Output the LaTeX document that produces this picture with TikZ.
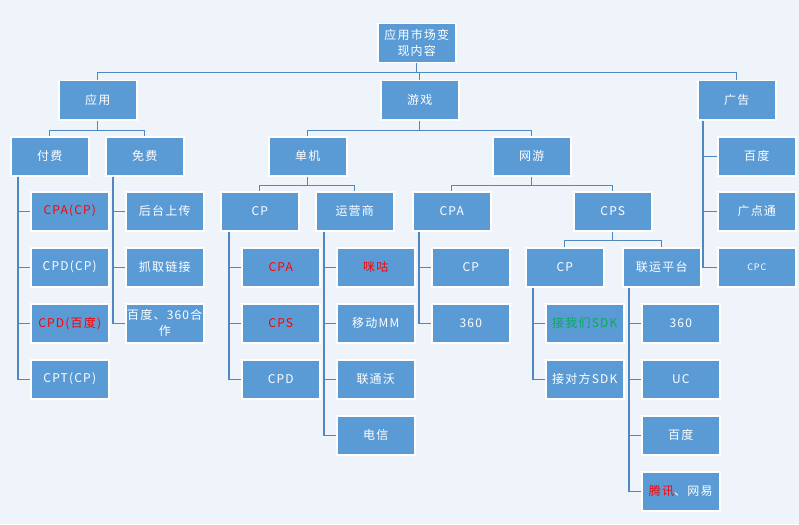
\documentclass[tikz,border=0pt]{standalone}
\usepackage{fontspec}
\setmainfont{Noto Sans CJK SC}[LetterSpace=10]
\definecolor{bg}{HTML}{EFF3FA}
\definecolor{boxc}{HTML}{5B9BD5}
\definecolor{linec}{HTML}{4F87C0}
\definecolor{grn}{HTML}{00B050}
\definecolor{rd}{HTML}{FF0000}
\tikzset{
  box/.style={rectangle, draw=white, line width=1.5pt, fill=boxc,
    minimum width=78pt, minimum height=39pt, inner sep=1pt, text=white,
    font=\fontsize{12}{16}\selectfont, align=center, anchor=north west},
  conn/.style={draw=linec, line width=1.3pt},
}
\begin{document}
\begin{tikzpicture}[x=1pt,y=-1pt]
\fill[bg] (0,0) rectangle (799,524);
\useasboundingbox (0,0) rectangle (799,524);
% level 0,1,2
\node[box] (root) at (377,23) {应用市场变\\现内容};
\node[box] (yy) at (58,80) {应用};
\node[box] (yx) at (380,80) {游戏};
\node[box] (gg) at (697,80) {广告};
\node[box] (ff) at (10,136) {付费};
\node[box] (mf) at (105,136) {免费};
\node[box] (dj) at (268,136) {单机};
\node[box] (wy) at (492,136) {网游};
% 付费 children
\node[box] (f1) at (30,191) {\textcolor{rd}{CPA(CP)}};
\node[box] (f2) at (30,247) {CPD(CP)};
\node[box] (f3) at (30,303) {\textcolor{rd}{CPD(百度)}};
\node[box] (f4) at (30,359) {CPT(CP)};
% 免费 children
\node[box] (m1) at (125,191) {后台上传};
\node[box] (m2) at (125,247) {抓取链接};
\node[box] (m3) at (125,303) {百度、360合\\作};
% 单机
\node[box] (cp1) at (220,191) {CP};
\node[box] (yys) at (315,191) {运营商};
\node[box] (c1) at (241,247) {\textcolor{rd}{CPA}};
\node[box] (c2) at (241,303) {\textcolor{rd}{CPS}};
\node[box] (c3) at (241,359) {CPD};
\node[box] (y1) at (336,247) {\textcolor{rd}{咪咕}};
\node[box] (y2) at (336,303) {移动MM};
\node[box] (y3) at (336,359) {联通沃};
\node[box] (y4) at (336,415) {电信};
% 网游
\node[box] (cpa) at (412,191) {CPA};
\node[box] (cps) at (573,191) {CPS};
\node[box] (a1) at (431,247) {CP};
\node[box] (a2) at (431,303) {360};
\node[box] (cp3) at (525,247) {CP};
\node[box] (ly) at (622,247) {联运平台};
\node[box] (s1) at (545,303) {\textcolor{grn}{接我们SDK}};
\node[box] (s2) at (545,359) {接对方SDK};
\node[box] (l1) at (641,303) {360};
\node[box] (l2) at (641,359) {UC};
\node[box] (l3) at (641,415) {百度};
\node[box] (l4) at (641,471) {\textcolor{rd}{腾讯}、网易};
% 广告
\node[box] (g1) at (717,136) {百度};
\node[box] (g2) at (717,191) {广点通};
\node[box, font=\fontsize{9}{12}\selectfont] (g3) at (717,247) {CPC};
% tree connectors
\foreach \c in {yy,yx,gg} \draw[conn] (root.south) -- ++(0,9) -| (\c.north);
\foreach \c in {ff,mf} \draw[conn] (yy.south) -- ++(0,10) -| (\c.north);
\foreach \c in {dj,wy} \draw[conn] (yx.south) -- ++(0,10) -| (\c.north);
\foreach \c in {cp1,yys} \draw[conn] (dj.south) -- ++(0,9) -| (\c.north);
\foreach \c in {cpa,cps} \draw[conn] (wy.south) -- ++(0,9) -| (\c.north);
\foreach \c in {cp3,ly} \draw[conn] (cps.south) -- ++(0,9) -| (\c.north);
% side branches
\foreach \c in {f1,f2,f3,f4} \draw[conn] ([xshift=8pt]ff.south west) |- (\c.west);
\foreach \c in {m1,m2,m3} \draw[conn] ([xshift=8pt]mf.south west) |- (\c.west);
\foreach \c in {c1,c2,c3} \draw[conn] ([xshift=9pt]cp1.south west) |- (\c.west);
\foreach \c in {y1,y2,y3,y4} \draw[conn] ([xshift=9pt]yys.south west) |- (\c.west);
\foreach \c in {a1,a2} \draw[conn] ([xshift=7pt]cpa.south west) |- (\c.west);
\foreach \c in {s1,s2} \draw[conn] ([xshift=8pt]cp3.south west) |- (\c.west);
\foreach \c in {l1,l2,l3,l4} \draw[conn] ([xshift=7pt]ly.south west) |- (\c.west);
\foreach \c in {g1,g2,g3} \draw[conn] ([xshift=6pt]gg.south west) |- (\c.west);
\end{tikzpicture}
\end{document}
